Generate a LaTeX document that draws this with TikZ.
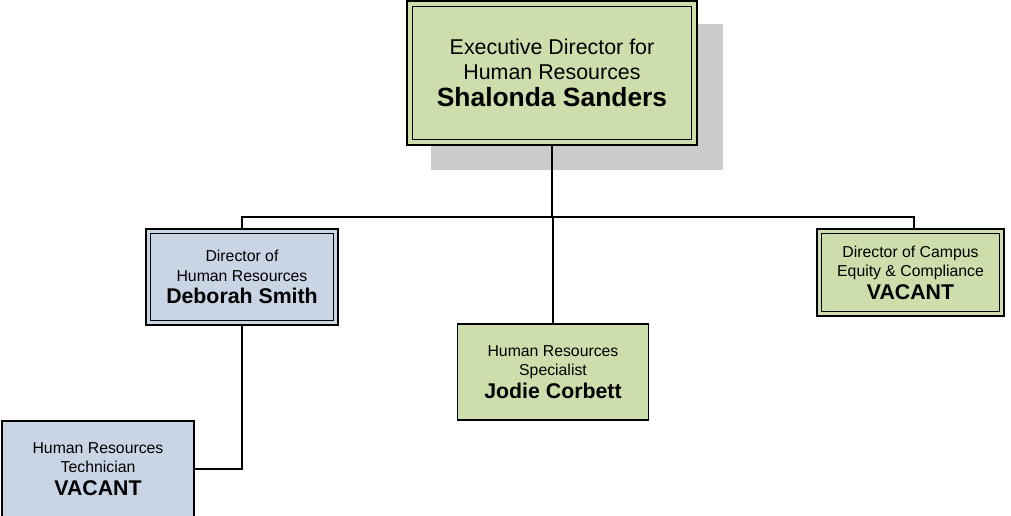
\documentclass[tikz,border=0pt]{standalone}
\usepackage{fontspec}
\setmainfont{Liberation Sans}
\usetikzlibrary{backgrounds}
\definecolor{boxgreen}{RGB}{206,221,172}
\definecolor{boxblue}{RGB}{201,213,228}
\definecolor{shadowgray}{RGB}{204,204,204}
\newcommand{\fsmall}{\fontsize{15.8}{19.5}\selectfont}
\newcommand{\fbig}{\fontsize{21.3}{24}\selectfont\bfseries}
\newcommand{\tsmall}{\fontsize{21.4}{25}\selectfont}
\newcommand{\tbig}{\fontsize{26.4}{30}\selectfont\bfseries}
\tikzset{
  orgbox/.style={draw=black, line width=1.6pt, align=center, inner sep=0pt, text=black},
  innerframe/.style={draw=black, line width=0.8pt},
  link/.style={draw=black, line width=1.5pt}
}
\begin{document}
\begin{tikzpicture}[x=1pt,y=-1pt]
\useasboundingbox (0,0) rectangle (1011,516);
% top box
\node[orgbox, fill=boxgreen, minimum width=290pt, minimum height=144pt, font=\tsmall] (top) at (552,73)
  {Executive Director for\\Human Resources\\[2pt]{\tbig Shalonda Sanders}};
\draw[innerframe] ([shift={(6pt,-6pt)}]top.north west) rectangle ([shift={(-6pt,6pt)}]top.south east);
\begin{scope}[on background layer]
\fill[shadowgray] ([shift={(25pt,-24pt)}]top.north west) rectangle ([shift={(25pt,-24pt)}]top.south east);
\end{scope}
% second level
\node[orgbox, fill=boxblue, minimum width=192pt, minimum height=96pt, font=\fsmall] (deb) at (242,277)
  {Director of\\Human Resources\\[3pt]{\fbig Deborah Smith}};
\draw[innerframe] ([shift={(5pt,-5pt)}]deb.north west) rectangle ([shift={(-5pt,5pt)}]deb.south east);
\node[orgbox, fill=boxgreen, minimum width=191pt, minimum height=96pt, font=\fsmall] (jod) at (553,372)
  {Human Resources\\Specialist\\[3pt]{\fbig Jodie Corbett}};
\node[orgbox, fill=boxgreen, minimum width=187pt, minimum height=87pt, font=\fsmall] (camp) at (910.5,272.5)
  {Director of Campus\\Equity \& Compliance\\[3pt]{\fbig VACANT}};
\draw[innerframe] ([shift={(5pt,-5pt)}]camp.north west) rectangle ([shift={(-5pt,5pt)}]camp.south east);
% third level
\node[orgbox, fill=boxblue, minimum width=192pt, minimum height=96pt, font=\fsmall] (tech) at (98,469)
  {Human Resources\\Technician\\[3pt]{\fbig VACANT}};
% connectors
\coordinate (bus) at (552,217);
\coordinate (campin) at ([xshift=3.5pt]camp.north);
\draw[link] (top.south) -- (top.south |- bus);
\draw[link] (deb.north) |- (campin |- bus) -- (campin);
\draw[link] (jod.north) -- (jod.north |- bus);
\draw[link] (deb.south) |- (tech.east);
\end{tikzpicture}
\end{document}
